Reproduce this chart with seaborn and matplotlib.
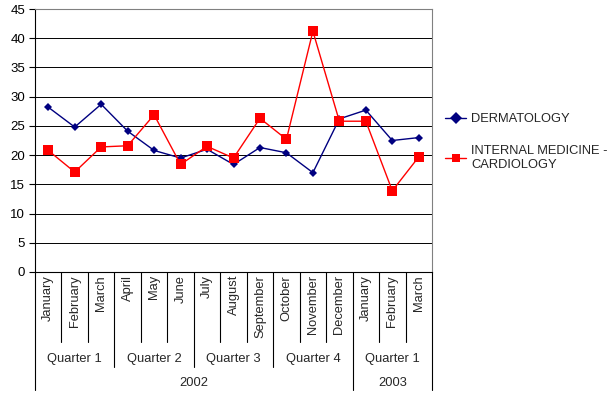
import numpy as np
import pandas as pd
import matplotlib
matplotlib.use("Agg")
import matplotlib.pyplot as plt
import matplotlib.transforms as mtransforms
import seaborn as sns

# Monthly values per department
months = ["January", "February", "March", "April", "May", "June", "July",
          "August", "September", "October", "November", "December",
          "January", "February", "March"]
quarters = ["Quarter 1", "Quarter 2", "Quarter 3", "Quarter 4", "Quarter 1"]
years = ["2002", "2003"]
dermatology = [28.2, 24.8, 28.7, 24.1, 20.8, 19.5, 21.0, 18.4, 21.3, 20.4,
               17.0, 26.2, 27.7, 22.5, 23.0]
internal_cardio = [20.8, 17.1, 21.4, 21.6, 26.9, 18.4, 21.5, 19.5, 26.3, 22.7,
                   41.2, 25.8, 25.8, 13.9, 19.7]
series_names = ["DERMATOLOGY", "INTERNAL MEDICINE -\nCARDIOLOGY"]

sns.set_theme(style="white")
plt.rcParams["font.family"] = ["Liberation Sans", "DejaVu Sans"]

W, H = 613, 401
fig = plt.figure(figsize=(W / 100, H / 100), dpi=100)
x0, x1, ytop, ybot = 35, 432, 9, 272
ax = fig.add_axes([x0 / W, (H - ybot) / H, (x1 - x0) / W, (ybot - ytop) / H])

n = len(months)
idx = np.arange(n)
df = pd.DataFrame({
    "idx": np.concatenate([idx, idx]),
    "value": dermatology + internal_cardio,
    "series": [series_names[0]] * n + [series_names[1]] * n,
})

palette = {series_names[0]: "#000080", series_names[1]: "#FF0000"}
markers = {series_names[0]: "D", series_names[1]: "s"}
sns.lineplot(data=df, x="idx", y="value", hue="series", style="series",
             palette=palette, markers=markers, dashes=False, ax=ax,
             linewidth=1.0, markeredgewidth=0, legend=True)
for line, ms in zip(ax.lines, [4.2, 6.8]):
    line.set_markersize(ms)

ax.set_xlim(-0.5, n - 0.5)
ax.set_ylim(0, 45)
ax.set_yticks(np.arange(0, 46, 5))
ax.set_xticks([])
ax.set_xlabel("")
ax.set_ylabel("")
ax.yaxis.grid(True, color="#000000", linewidth=0.7)
ax.set_axisbelow(True)
ax.tick_params(axis="y", left=True, length=4, width=0.8, color="black",
               labelsize=9.5, pad=3, labelcolor="black")
for side in ["left", "bottom"]:
    ax.spines[side].set_color("black")
    ax.spines[side].set_linewidth(0.8)
for side in ["top", "right"]:
    ax.spines[side].set_color("#808080")
    ax.spines[side].set_linewidth(0.8)

# Hierarchical category axis below the plot
trans = mtransforms.blended_transform_factory(ax.transData, ax.transAxes)
hpx = ybot - ytop

def ya(ypix):
    return (ybot - ypix) / hpx

line_kw = dict(color="black", linewidth=0.8, transform=trans, clip_on=False)
for b in range(n + 1):
    xb = b - 0.5
    if b in (0, 12, 15):
        bottom = 390
    elif b % 3 == 0:
        bottom = 367
    else:
        bottom = 342
    ax.plot([xb, xb], [0, ya(bottom)], **line_kw)

for i, m in enumerate(months):
    ax.text(i, ya(275), m, rotation=90, ha="center", va="top",
            fontsize=9.3, transform=trans)
for q, name in enumerate(quarters):
    ax.text(q * 3 + 1, ya(359), name, ha="center", va="center",
            fontsize=9.3, transform=trans)
ax.text(5.5, ya(383), years[0], ha="center", va="center", fontsize=9.3,
        transform=trans)
ax.text(13, ya(383), years[1], ha="center", va="center", fontsize=9.3,
        transform=trans)

# Legend to the right of the plot
handles, labels = ax.get_legend_handles_labels()
ax.legend(handles, labels, loc="center left",
          bbox_to_anchor=(440 / W, (H - 142) / H),
          bbox_transform=fig.transFigure, frameon=False, fontsize=9.3,
          handlelength=1.6, handletextpad=0.4, labelspacing=1.55,
          borderaxespad=0)

fig.savefig("out.png", dpi=100)
